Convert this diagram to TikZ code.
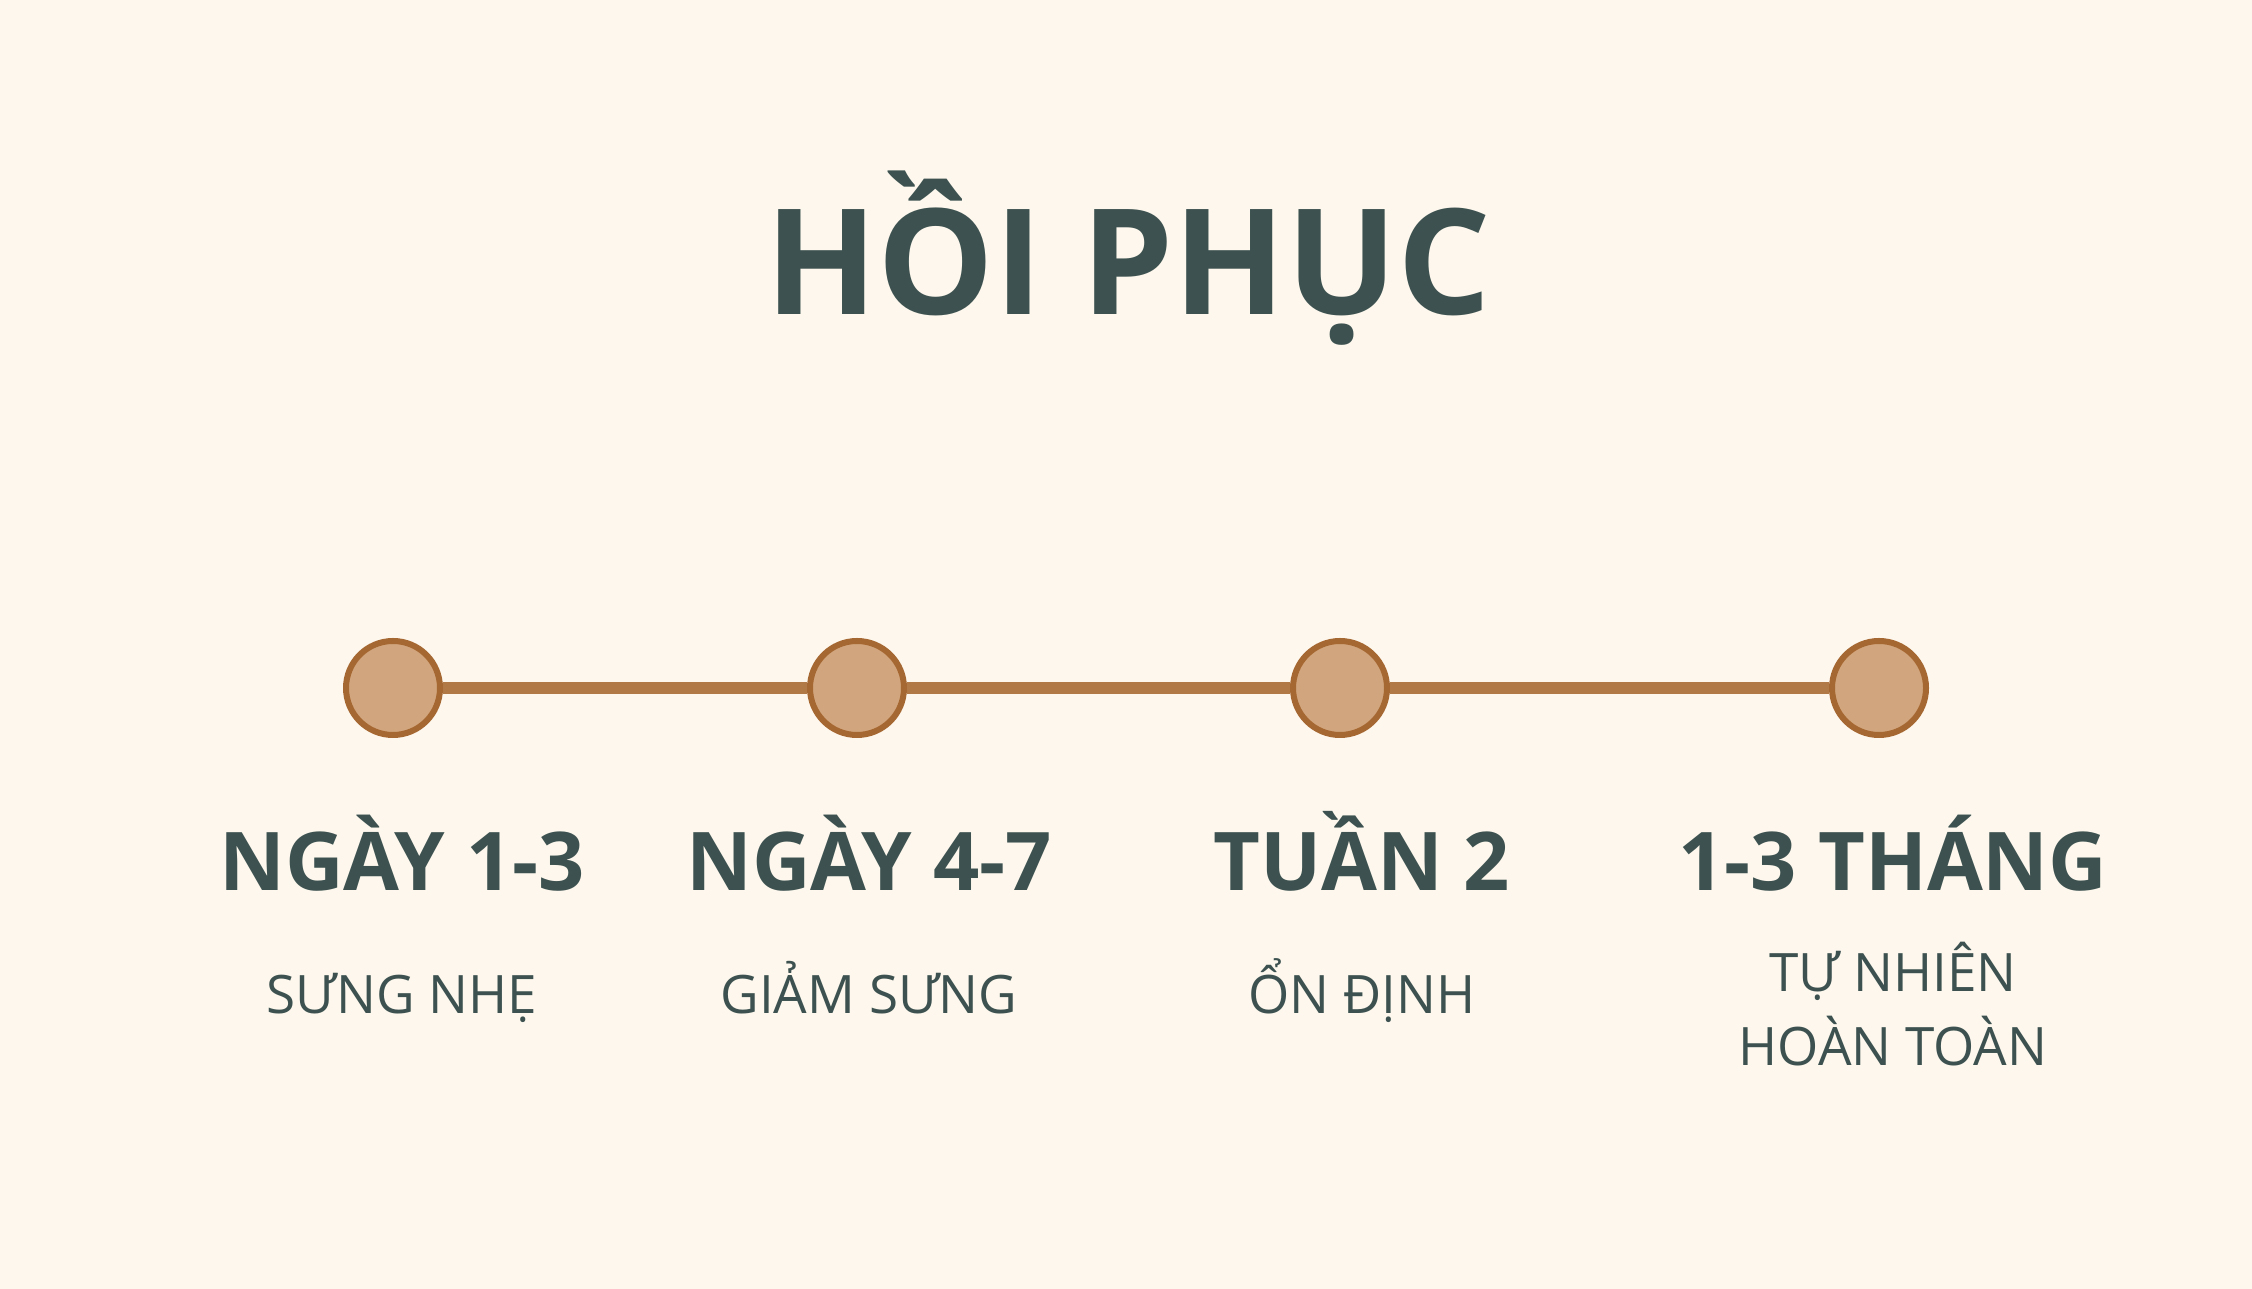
\documentclass[tikz,border=0pt]{standalone}
\usepackage{fontspec}
\setmainfont{Open Sans}
\usepackage{tikz}
\usetikzlibrary{positioning}
\usepackage{xcolor}
\definecolor{paper}{RGB}{253,247,237}
\definecolor{slate}{RGB}{61,82,80}
\definecolor{tan}{RGB}{209,165,125}
\definecolor{rust}{RGB}{166,104,50}
\definecolor{stripe}{RGB}{176,121,70}
\tikzset{bigtannode/.style={circle, fill=tan, draw=rust, line width=3pt, minimum size=47pt, inner sep=0pt},
steptitle/.style={anchor=base, text=slate, font=\bfseries\fontsize{40.5}{49}\selectfont, inner sep=0pt},
stepnote/.style={anchor=base, text=slate, font=\fontsize{26.5}{37}\selectfont, align=center, inner sep=0pt}}

\begin{document}
\begin{tikzpicture}[
        line join=bevel,
        x=1pt, y=1pt
    ]
        % Background
        \fill[paper] (0pt, 0pt) rectangle (1126pt, 644.5pt);
        \useasboundingbox (0pt, 0pt) rectangle (1126pt, 644.5pt);
        % Title
        \node[anchor=base, text=slate, font=\bfseries\fontsize{73.5}{88}\selectfont, inner sep=0pt] (title) at (564pt, 487pt) {HỒI PHỤC};
        % Points
        \node[bigtannode] (d1) at (196.5pt, 300.5pt) {};
        \node[bigtannode] (d2) at (428.5pt, 300.5pt) {};
        \node[bigtannode] (d3) at (670pt, 300.5pt) {};
        \node[bigtannode] (d4) at (939.5pt, 300.5pt) {};
        % Lines
        \draw[stripe, line width=6.25pt] (d1) -- (d2);
        \draw[stripe, line width=6.25pt] (d2) -- (d3);
        \draw[stripe, line width=6.25pt] (d3) -- (d4);
        % Labels
        \node[steptitle] (t1) at (201pt, 199pt) {NGÀY 1-3};
        \node[steptitle] (t2) at (434.5pt, 199pt) {NGÀY 4-7};
        \node[steptitle] (t3) at (681pt, 199pt) {TUẦN 2};
        \node[steptitle] (t4) at (946.5pt, 199pt) {1-3 THÁNG};
        \node[stepnote] (n1) at (201pt, 137.5pt) {SƯNG NHẸ};
        \node[stepnote] (n2) at (434.5pt, 137.5pt) {GIẢM SƯNG};
        \node[stepnote] (n3) at (681pt, 137.5pt) {ỔN ĐỊNH};
        \node[stepnote] (n4) at (946.5pt, 111.5pt) {TỰ NHIÊN\\HOÀN TOÀN};
    \end{tikzpicture}
\end{document}
